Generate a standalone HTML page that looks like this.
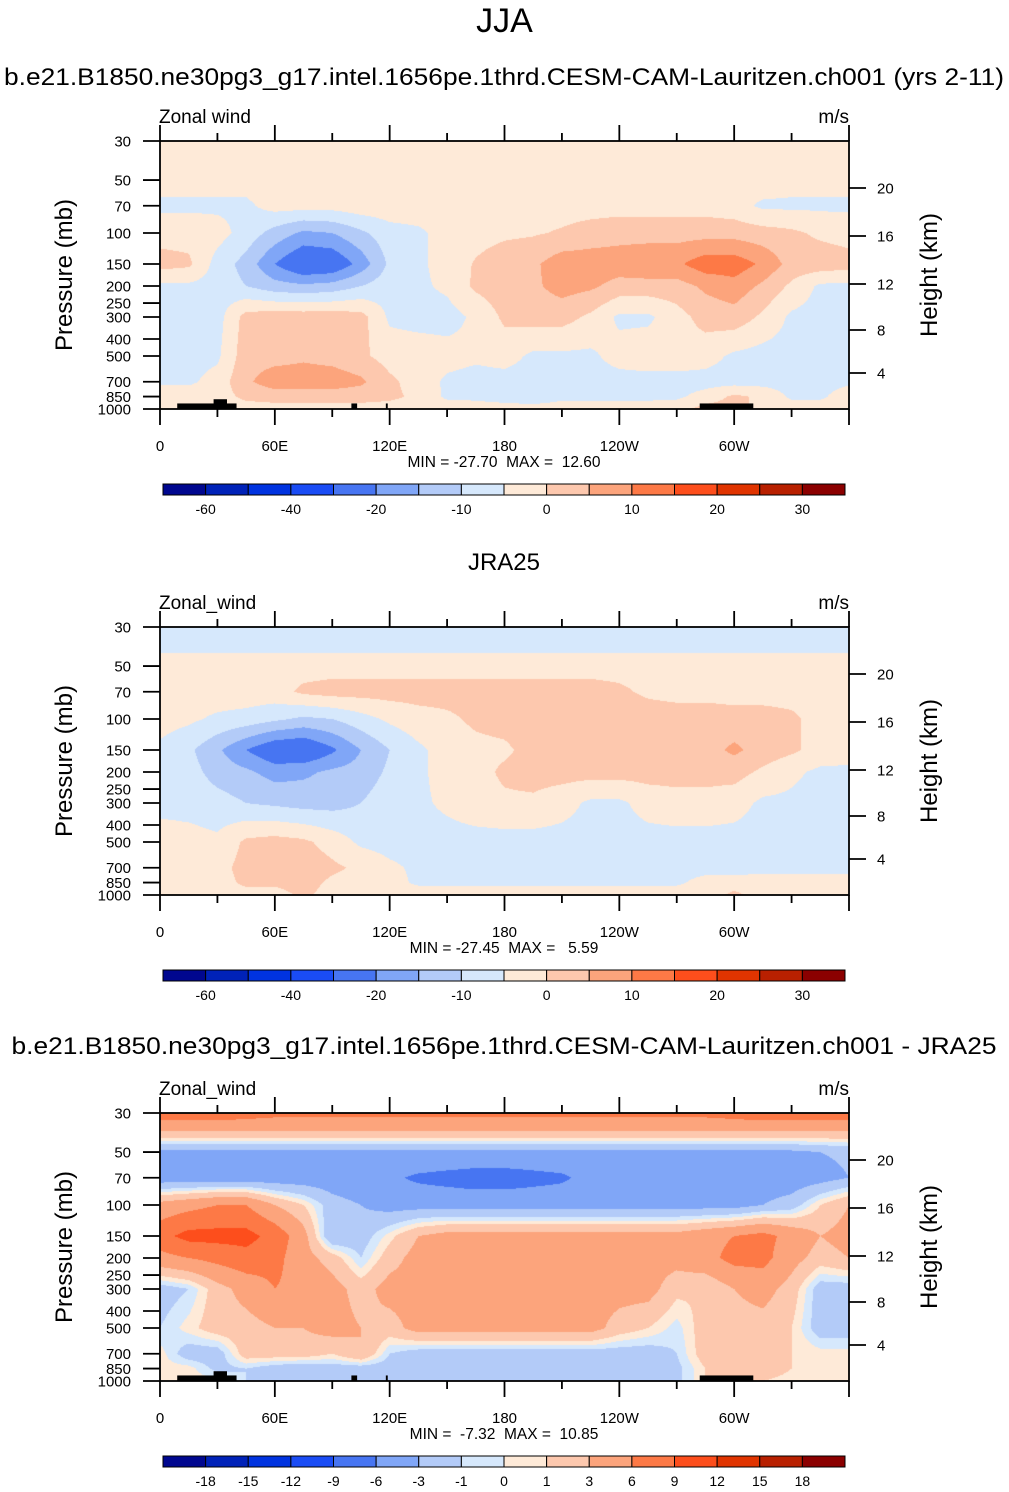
<!DOCTYPE html>
<html><head><meta charset="utf-8">
<style>
body{margin:0;background:#fff;}
#root{position:relative;width:1009px;height:1492px;overflow:hidden;font-family:"Liberation Sans",Helvetica,Arial,sans-serif;color:#000;}
.t{position:absolute;white-space:nowrap;}
canvas{position:absolute;}
svg{position:absolute;left:0;top:0;}
</style></head>
<body>
<div id="root">
<div class="t" style="left:0;width:1009px;text-align:center;top:2px;font-size:34px;">JJA</div>
<svg id="ov" width="1009" height="1492"></svg>
</div>
<script>
// ---- data ----
const lons = [0,15,30,45,60,75,90,105,120,135,150,165,180,195,210,225,240,255,270,285,300,315,330,345,360];
const levs = [30,40,50,70,100,150,200,300,500,700,850,1000];
const bounds1 = [-60,-50,-40,-30,-20,-15,-10,-5,0,5,10,15,20,25,30];
const bounds3 = [-18,-15,-12,-9,-6,-3,-1,0,1,3,6,9,12,15,18];
const barLabels1 = ["-60","","-40","","-20","","-10","","0","","10","","20","","30"];
const barLabels3 = ["-18","-15","-12","-9","-6","-3","-1","0","1","3","6","9","12","15","18"];
const pTicks = [30,50,70,100,150,200,250,300,400,500,700,850,1000];
const lonTickLabels = ["0","60E","120E","180","120W","60W"];
const kmLabels = ["20","16","12","8","4"];
const colors = ["#00078f","#0022b8","#0033e0","#1a4cf5","#4775f2","#80a6f7","#b3cbf8","#d6e8fc","#feead8","#fdc8ae","#fca47c","#fd7946","#fd4e1c","#e03400","#b82000","#8b0000"];

const field1 = [
[-2,-2,-2,-2,-2,-2,-2,-2,-2,-2,-2,-2,-2,-2,-2,-2,-2,-2,-2,-2,-2,-2,-2,-2,-2],
[-2,-2,-2,-2,-2,-2,-2,-2,-2,-2,-2,-2,-2,-2,-2,-2,-2,-2,-2,-2,-2,-2,-2,-2,-2],
[-3,-3,-3,-3,-2,-2,-2,-2,-2,-2,-2,-2,-2,-2,-2,-2,-2,-2,-2,-2,-2,-2,-3,-3,-3],
[-6,-6,-6,-6,-3,-3,-3,-2,-2,-2,-2,-2,-2,-2,-2,-2,-2,-2,-2,-2,-3,-6,-6,-6,-6],
[-2,-2,-3,-7,-12,-16,-15,-11,-7,-6,-3,-2,-1,-0.5,0.5,2,3,3,3,3,3,2,1,-1,-2],
[2,1,-7,-12,-20,-26,-25,-18,-9,-6,-3,0.5,3,4,8,8,8,9,9,13,13,9,3,3,2],
[-6,-6,-7,-10,-13,-14,-13,-10,-7,-6,-4,1,3,4,7,6,3,3,3,6,8,4,-1,-6,-6],
[-7,-7,-7,2,3,3,3,2,-6,-7,-7,-4,1,2,2,-1,-6,-6,-2,2,3,-1,-6,-7,-7],
[-7,-7,-6,3,3,4,3,1,-2,-2,-3,-4,-3,-6,-6,-6,-3,-2,-2,-3,-6,-7,-7,-7,-7],
[-6,-6,-3,4,8,8,8,6,1,-2,-6,-7,-7,-7,-7,-7,-7,-7,-7,-7,-7,-7,-7,-7,-6],
[-2,-2,-2,1,2,2,2,2,1,-1,-6,-6,-7,-8,-6,-6,-6,-6,-6,-3,1,-1,-6,-6,-2],
[-2,-2,-2,-2,-2,-2,-2,-2,-2,-2,-2,-3,-3,-3,-3,-3,-3,-3,-2,2,2,-2,-2,-2,-2]
];
const field2 = [
[-7,-7,-7,-7,-7,-7,-7,-7,-7,-7,-7,-7,-7,-7,-7,-7,-7,-7,-7,-7,-7,-7,-7,-7,-7],
[-6,-6,-6,-6,-6,-6,-6,-6,-6,-6,-6,-6,-6,-6,-6,-6,-6,-6,-6,-6,-6,-6,-6,-6,-6],
[-2,-2,-2,-2,-2,-2,-2,-2,-2,-2,-2,-2,-2,-2,-2,-2,-2,-2,-2,-2,-2,-2,-2,-2,-2],
[-2,-2,-2,-2,-2,1,2,2,2,2,2,2,2,2,2,2,1,-1,-2,-2,-2,-2,-2,-2,-2],
[-3,-4,-6,-7,-9,-11,-10,-7,-4,-2,-1,1,2,3,3,3,3,3,3,3,2,2,1,-2,-3],
[-6,-9,-14,-20,-25,-26,-21,-15,-10,-6,-3,-1.5,-1,2,3,3,3,3,3,3,6,3,1,-2,-3],
[-7,-8,-12,-14,-17,-16,-14,-13,-9,-6,-3,-2,1,2,2,2,2,2,2,2,2,-1,-4,-6,-6],
[-7,-7,-8,-10,-11,-12,-12,-10,-7,-6,-4,-2,-1,-1,-3,-6,-6,-3,-2,-2,-3,-6,-6,-7,-7],
[-2,-3,-4,1,2,1,-2,-6,-7,-7,-7,-7,-7,-7,-7,-7,-7,-7,-7,-7,-7,-7,-7,-7,-7],
[-1,-1,-2,2,1,3,1,-1,-4,-6,-7,-7,-7,-7,-7,-7,-7,-7,-7,-7,-8,-7,-7,-7,-7],
[-2,-2,-2,1,1,2,-1,-2,-3,-6,-6,-6,-6,-6,-6,-6,-6,-6,-6,-3,-2,-2,-2,-2,-2],
[-2,-2,-2,-2,-2,1,-2,-2,-2,-2,-2,-2,-2,-2,-2,-2,-2,-2,-2,-2,1,-2,-2,-2,-2]
];
const field3 = [
[8,8,8,7.5,7,7,7,7,7,7,7,7,7,7,7,7,7,7,7,7,7.5,8,8,8,8],
[2,2,2,2,2,2,2,2,2,2,2,2,2,2,2,2,2,2,2,2,2,2,2,2,2],
[-3.5,-3.5,-3.5,-3.5,-3.5,-3.5,-3.5,-3.5,-3.5,-3.5,-3.5,-3.5,-3.5,-3.5,-3.5,-3.5,-3.5,-3.5,-3.5,-3.5,-3.5,-3.5,-3.5,-3,-2.5],
[-4.5,-4.5,-4.5,-4.5,-4.5,-4.5,-4.5,-5,-5.5,-6.5,-7,-7.5,-7.5,-7,-6.5,-5,-4.5,-4.5,-4.5,-4.5,-4.5,-4.5,-4.5,-4,-3],
[4,5,6,6,3,1,-2,-3,-4,-4,-4,-4,-4,-4,-4,-4,-4,-4,-4,-4,-4,-3,-2,1,3],
[8,10,10,10,8,4,-3,-2,0.5,3,4,4,4,4,4,4,4,4,4,5,6,7,5,3,4],
[5,6,7,8,7,4,2,-1,2,4,4,4,4,4,4,4,4,4,4,5,7,7,4,2,3],
[-2,-1,2,4,6,5,4,2,4,4,4,4,4,4,4,4,4,4,1.5,1,3,4,2,-2,-2],
[-1,0.5,2,2,3,3,4,3,2,4,4,4,4,4,4,4,2,1,-0.5,2,2,2,1,-2,-2],
[0.5,-2,-2,2,2,2,1,3,-1,-2,-2,-2,-2,-2,-2,-2,-2,-2,-1,2,2,2,1,0.5,0.5],
[0.5,0.5,-1.5,-1,-2,-2.5,-2,-2,-2,-2,-2,-2,-2,-2,-2,-2,-2,-2,-1.5,1,2,2,1,0.5,0.5],
[0.5,0.5,0.5,-1,-2,-2.5,-2,-2,-2,-2,-2,-2,-2,-2,-2,-2,-2,-2,-1.5,1,2,1,0.5,0.5,0.5]
];
const panelFields = [field1, field2, field3];
const panelBounds = [bounds1, bounds1, bounds3];
const panelBarLabels = [barLabels1, barLabels1, barLabels3];
const minMax = ["MIN = -27.70  MAX =  12.60","MIN = -27.45  MAX =   5.59","MIN =  -7.32  MAX =  10.85"];
const leftTitles = ["Zonal wind","Zonal_wind","Zonal_wind"];
const panelTitles = ["b.e21.B1850.ne30pg3_g17.intel.1656pe.1thrd.CESM-CAM-Lauritzen.ch001 (yrs 2-11)","JRA25","b.e21.B1850.ne30pg3_g17.intel.1656pe.1thrd.CESM-CAM-Lauritzen.ch001 - JRA25"];
const titleWidths = [1000, 0, 985];
// terrain boxes [lon0, lon1, pTop]
const terrain = [[9,40,930],[28,35,880],[100,103,930],[118,119,930],[282,310,930]];

// ---- layout ----
const PX=160, PW=689, PH=268, TOPS=[141,627,1113];
const root=document.getElementById('root');
const ov=document.getElementById('ov');
const NS='http://www.w3.org/2000/svg';
const xOf=lon=>PX+lon/360*PW;
const yFrac=p=>Math.log(p/30)/Math.log(1000/30);
function txt(x,y,s,size,anchor,name){
  const t=document.createElementNS(NS,'text');
  t.setAttribute('x',x);t.setAttribute('y',y);t.setAttribute('font-size',size);
  t.setAttribute('text-anchor',anchor||'start');
  t.setAttribute('font-family','"Liberation Sans", Helvetica, sans-serif');
  t.textContent=s;
  
  
  ov.appendChild(t);return t;
}
function line(x1,y1,x2,y2,w,name){
  const l=document.createElementNS(NS,'line');
  l.setAttribute('x1',x1);l.setAttribute('y1',y1);l.setAttribute('x2',x2);l.setAttribute('y2',y2);
  l.setAttribute('stroke','#000');l.setAttribute('stroke-width',w||1.5);
  
  
  ov.appendChild(l);
}
function rect(x,y,w,h,fill,name,stroke){
  const r=document.createElementNS(NS,'rect');
  r.setAttribute('x',x);r.setAttribute('y',y);r.setAttribute('width',w);r.setAttribute('height',h);
  r.setAttribute('fill',fill);
  if(stroke){r.setAttribute('stroke',stroke);r.setAttribute('stroke-width',1);}
  
  
  ov.appendChild(r);
}
function hex2rgb(h){return [parseInt(h.substr(1,2),16),parseInt(h.substr(3,2),16),parseInt(h.substr(5,2),16)];}
const rgbs=colors.map(hex2rgb);
const levFr=levs.map(yFrac);

for(let k=0;k<3;k++){
  const top=TOPS[k], f=panelFields[k], b=panelBounds[k];
  const cv=document.createElement('canvas');
  cv.width=PW;cv.height=PH;cv.style.left=PX+'px';cv.style.top=top+'px';
  
  
  root.insertBefore(cv,ov);
  const ctx=cv.getContext('2d');const img=ctx.createImageData(PW,PH);
  for(let j=0;j<PH;j++){
    const fr=(j+0.5)/PH;let r=0;
    while(r<levFr.length-2 && levFr[r+1]<fr) r++;
    const ty=Math.min(1,Math.max(0,(fr-levFr[r])/(levFr[r+1]-levFr[r])));
    for(let i=0;i<PW;i++){
      const lon=(i+0.5)/PW*360;const c=Math.min(lons.length-2,Math.floor(lon/15));
      const tx=(lon-lons[c])/15;
      const v=(f[r][c]*(1-tx)+f[r][c+1]*tx)*(1-ty)+(f[r+1][c]*(1-tx)+f[r+1][c+1]*tx)*ty;
      let bi=0;while(bi<b.length && v>=b[bi]) bi++;
      const col=rgbs[bi];const o=(j*PW+i)*4;
      img.data[o]=col[0];img.data[o+1]=col[1];img.data[o+2]=col[2];img.data[o+3]=255;
    }
  }
  ctx.putImageData(img,0,0);
  if(k!==1){
    terrain.forEach(t=>{
      const y0=top+yFrac(t[2])*PH;
      rect(xOf(t[0]),y0,xOf(t[1])-xOf(t[0]),top+PH-y0,'#000','terrain-block');
    });
  }
  rect(PX,top,PW,PH,'none','plot-frame-'+(k+1),'#000');
  ov.lastChild.setAttribute('stroke-width',1.8);
  for(let lon=0;lon<=360;lon+=30){
    const major=lon%60===0, x=xOf(lon), L=major?16:8;
    line(x,top+PH,x,top+PH+L,1.8,'x-tick');
    line(x,top,x,top-L,1.8,'x-tick-top');
  }
  lonTickLabels.forEach((s,i)=>txt(xOf(i*60),top+PH+42,s,15,'middle','x-tick-label'));
  pTicks.forEach(p=>{
    const y=top+yFrac(p)*PH;
    line(PX-17,y,PX,y,1.8,'y-tick');
    txt(131,y+5.5,String(p),15,'end','y-tick-label');
  });
  const kmOff=[47,95,143,189,232];
  kmLabels.forEach((s,i)=>{
    const y=top+kmOff[i];
    line(PX+PW,y,PX+PW+17,y,1.8,'height-tick');
    txt(877,y+5.5,s,15,'start','height-tick-label');
  });
  const tt=txt(504,top-(k===0?56:k===1?57:59),panelTitles[k],24,'middle','panel-title-'+(k+1));
  if(titleWidths[k]){tt.setAttribute('textLength',titleWidths[k]);tt.setAttribute('lengthAdjust','spacingAndGlyphs');}
  txt(159,top-18,leftTitles[k],19,'start','variable-label');
  txt(849,top-18,'m/s',19,'end','units-label');
  const pt=txt(0,0,'Pressure (mb)',24,'middle','y-axis-title');
  pt.setAttribute('transform','translate(72,'+(top+134)+') rotate(-90)');
  const ht=txt(0,0,'Height (km)',24,'middle','y2-axis-title');
  ht.setAttribute('transform','translate(937,'+(top+134)+') rotate(-90)');
  const mm=txt(504,top+PH+58,minMax[k],15.5,'middle','min-max-label');
  mm.setAttribute('style','white-space:pre');
  mm.setAttribute('xml:space','preserve');
  const cbTop=top+343, cbX=163, bw=682/16;
  colors.forEach((c,i)=>rect(cbX+i*bw,cbTop,bw,11,c,'colorbar-box','#000'));
  panelBarLabels[k].forEach((s,i)=>{ if(s) txt(cbX+(i+1)*bw,cbTop+30,s,14,'middle','colorbar-label'); });
}
</script>
</body></html>
